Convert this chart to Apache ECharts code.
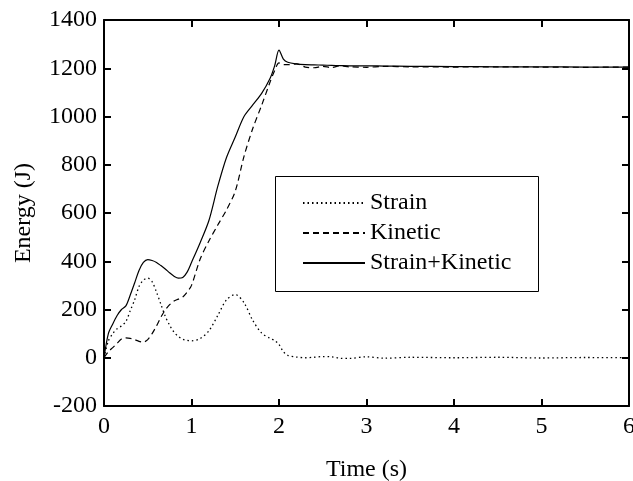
<!DOCTYPE html>
<html>
<head>
<meta charset="utf-8">
<script src="https://cdn.jsdelivr.net/npm/echarts@6/dist/echarts.min.js"></script>
<style>
  html, body { margin: 0; padding: 0; background: #fff; }
  #chart { width: 633px; height: 481px; }
</style>
</head>
<body>
<div id="chart"></div>
<script>
var times   = [0, 0.05, 0.1, 0.15, 0.2, 0.25, 0.3, 0.35, 0.4, 0.45, 0.5, 0.55, 0.6, 0.65, 0.7, 0.75, 0.8, 0.85, 0.9, 0.95,
               1.0, 1.1, 1.2, 1.3, 1.4, 1.5, 1.6, 1.7, 1.8, 1.9, 1.95, 2.0, 2.05, 2.1, 2.2, 2.3, 2.4, 2.5, 2.6, 2.7, 2.8,
               3.0, 3.2, 3.5, 4.0, 4.5, 5.0, 5.5, 6.0];
var strain  = [0, 70, 100, 120, 132, 150, 195, 240, 295, 322, 330, 315, 272, 222, 172, 135, 106, 88, 77, 72,
               70, 80, 112, 175, 240, 262, 228, 155, 103, 80, 72, 55, 25, 10, 3, 0, 2, 5, 4, -2, -3,
               4, -2, 2, 0, 2, -1, 1, 0];
var kinetic = [0, 25, 42, 60, 78, 82, 80, 75, 68, 65, 75, 100, 132, 168, 198, 220, 235, 243, 252, 272,
               300, 410, 485, 550, 613, 690, 835, 950, 1045, 1145, 1190, 1222, 1215, 1215, 1218, 1205, 1202, 1208, 1203, 1210, 1206,
               1204, 1208, 1206, 1205, 1206, 1205, 1204, 1205];
var total   = [0, 100, 140, 175, 200, 215, 260, 310, 362, 395, 407, 403, 395, 382, 368, 352, 338, 330, 333, 355,
               395, 478, 570, 710, 830, 915, 1000, 1048, 1095, 1160, 1210, 1275, 1238, 1225, 1218, 1215, 1214, 1213, 1212, 1211, 1210,
               1210, 1209, 1208, 1207, 1206, 1206, 1205, 1205];
var seriesNames = ['Strain', 'Kinetic', 'Strain+Kinetic'];

(function () {
    var font = 'Liberation Serif';
    var myChart = echarts.init(document.getElementById('chart'));

    function pairs(vals) {
        return times.map(function (t, i) { return [t, vals[i]]; });
    }
    function frameLine() { return { show: true, onZero: false, lineStyle: { color: '#000', width: 2 } }; }
    function frameTick() { return { show: true, inside: true, length: 7, lineStyle: { color: '#000', width: 2 } }; }
    // tick-only axis pushed 7px into the plot, its outward ticks end on the frame
    function tickAxis(pos, lo, hi, step) {
        return {
            type: 'value', min: lo, max: hi, interval: step, position: pos, offset: -7,
            axisLine: { show: false, onZero: false },
            axisTick: { show: true, inside: false, length: 7, lineStyle: { color: '#000', width: 2 } },
            axisLabel: { show: false }, splitLine: { show: false }
        };
    }

    var opt = {
        animation: false,
        backgroundColor: '#fff',
        grid: { left: 104, right: 4, top: 20, bottom: 75, outerBoundsMode: 'none' },
        legend: {
            orient: 'vertical',
            left: 297,
            top: 186,
            itemWidth: 62,
            itemHeight: 14,
            itemGap: 6,
            itemStyle: { opacity: 0 },
            textStyle: { fontFamily: font, fontSize: 24, color: '#000' },
            data: seriesNames
        },
        graphic: [{
            type: 'rect',
            shape: { x: 275.5, y: 176.5, width: 263, height: 115 },
            style: { fill: 'none', stroke: '#000', lineWidth: 1 },
            z: 0
        }],
        xAxis: [{
            type: 'value', min: 0, max: 6, interval: 1,
            name: 'Time (s)', nameLocation: 'middle', nameGap: 52,
            nameTextStyle: { fontFamily: font, fontSize: 24, color: '#000' },
            axisLine: frameLine(), axisTick: frameTick(),
            axisLabel: { fontFamily: font, fontSize: 24, color: '#000', margin: 9 },
            splitLine: { show: false }
        }, {
            type: 'value', min: 0, max: 6, interval: 1, position: 'top',
            axisLine: frameLine(), axisTick: frameTick(),
            axisLabel: { show: false }, splitLine: { show: false }
        },
            tickAxis('bottom', 0, 6, 1),
            tickAxis('top', 0, 6, 1)
        ],
        yAxis: [{
            type: 'value', min: -200, max: 1400, interval: 200,
            name: 'Energy (J)', nameLocation: 'middle', nameGap: 68,
            nameTextStyle: { fontFamily: font, fontSize: 24, color: '#000' },
            axisLine: frameLine(), axisTick: frameTick(),
            axisLabel: {
                fontFamily: font, fontSize: 24, color: '#000', margin: 7,
                formatter: function (v) { return String(v); }
            },
            splitLine: { show: false }
        }, {
            type: 'value', min: -200, max: 1400, interval: 200, position: 'right',
            axisLine: frameLine(), axisTick: frameTick(),
            axisLabel: { show: false }, splitLine: { show: false }
        },
            tickAxis('left', -200, 1400, 200),
            tickAxis('right', -200, 1400, 200)
        ],
        series: [
            {
                name: seriesNames[0], type: 'line', smooth: 0.3, symbol: 'none',
                lineStyle: { color: '#000', width: 1.3, type: [1.5, 3] },
                itemStyle: { color: '#000' },
                data: pairs(strain)
            },
            {
                name: seriesNames[1], type: 'line', smooth: 0.3, symbol: 'none',
                lineStyle: { color: '#000', width: 1.2, type: [6, 4] },
                itemStyle: { color: '#000' },
                data: pairs(kinetic)
            },
            {
                name: seriesNames[2], type: 'line', smooth: 0.3, symbol: 'none',
                lineStyle: { color: '#000', width: 1.2, type: 'solid' },
                itemStyle: { color: '#000' },
                data: pairs(total)
            }
        ]
    };
    myChart.setOption(opt);
})();
</script>
</body>
</html>
